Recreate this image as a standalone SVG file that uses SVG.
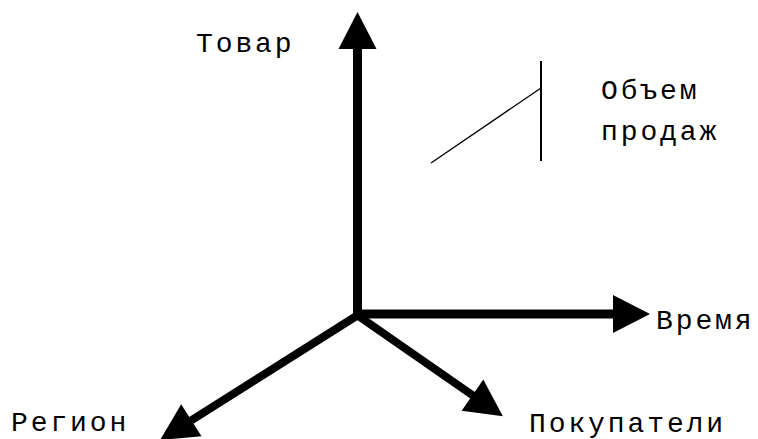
<svg xmlns="http://www.w3.org/2000/svg" width="758" height="439" viewBox="0 0 758 439">
<style>
.axis{stroke:#000;fill:none;stroke-linecap:butt;marker-end:url(#head)}
.lbl{font-family:"Liberation Mono","Courier New",monospace;font-size:28px;letter-spacing:2.9px;fill:#000}
.thin{stroke:#000;fill:none}
</style>
<defs>
<marker id="head" markerUnits="userSpaceOnUse" viewBox="0 0 37 38" markerWidth="37" markerHeight="38" refX="1" refY="19" orient="auto" overflow="visible">
<path d="M0,0 L37,19 L0,38 Z" fill="#000"/>
</marker>
</defs>
<rect width="758" height="439" fill="#fff"/>
<g id="connectors">
<line class="axis" x1="357.5" y1="318" x2="357.5" y2="48" stroke-width="9"/>
<line class="axis" x1="353" y1="314" x2="614" y2="314" stroke-width="9"/>
<line class="axis" x1="358" y1="315" x2="190.5" y2="420.8" stroke-width="8"/>
<line class="axis" x1="357" y1="315" x2="473.3" y2="395.7" stroke-width="8"/>
</g>
<g id="sales-mark">
<line class="thin" x1="541" y1="61" x2="541" y2="161" stroke-width="2"/>
<line class="thin" x1="431" y1="163" x2="541" y2="88" stroke-width="1.3"/>
</g>
<g id="node-tovar"><text class="lbl" x="196" y="52">Товар</text></g>
<g id="node-obem"><text class="lbl" x="601" y="99">Объем</text><text class="lbl" x="601" y="140">продаж</text></g>
<g id="node-vremya"><text class="lbl" x="656" y="329">Время</text></g>
<g id="node-region"><text class="lbl" x="11" y="431">Регион</text></g>
<g id="node-pokupateli"><text class="lbl" x="529" y="432">Покупатели</text></g>
</svg>
